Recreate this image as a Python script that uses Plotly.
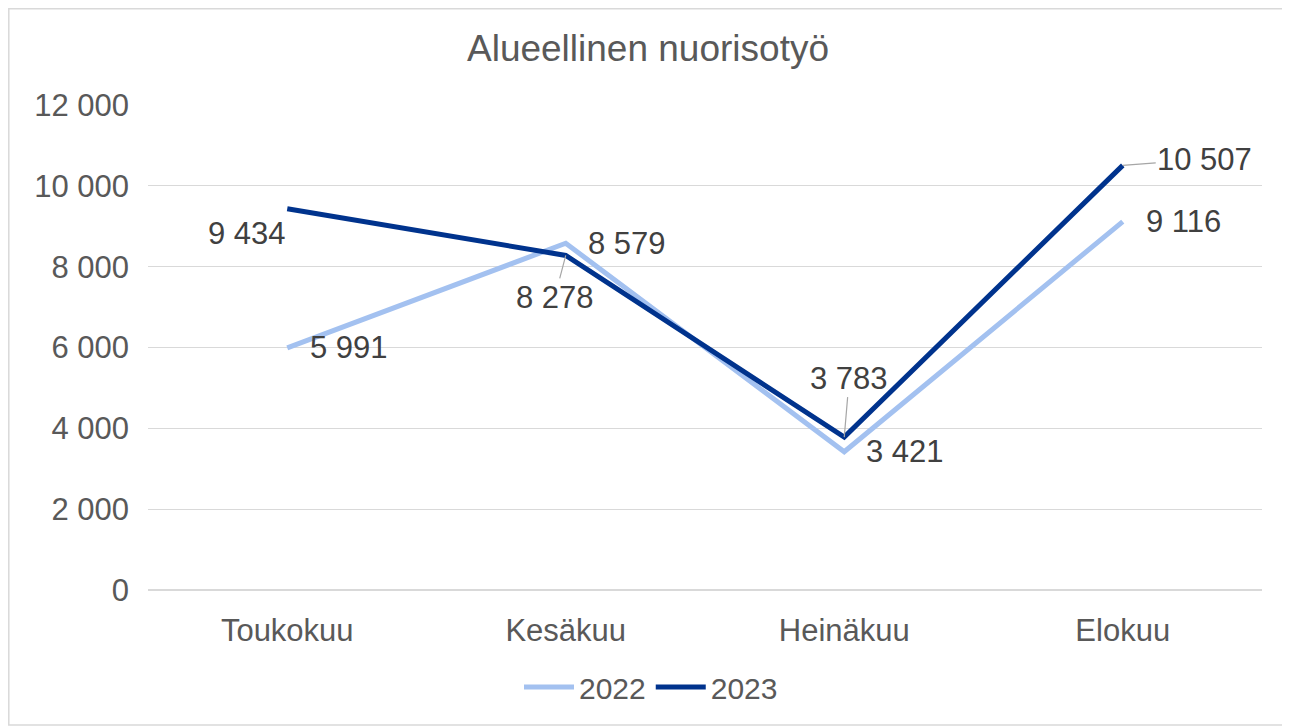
import plotly.graph_objects as go

categories = ["Toukokuu", "Kesäkuu", "Heinäkuu", "Elokuu"]
values_2022 = [5991, 8579, 3421, 9116]
values_2023 = [9434, 8278, 3783, 10507]
y_ticks = [0, 2000, 4000, 6000, 8000, 10000, 12000]
y_tick_labels = ["0", "2 000", "4 000", "6 000", "8 000", "10 000", "12 000"]

def fmt(v):
    return f"{v:,}".replace(",", " ")

C22 = "#A3C1F0"
C23 = "#00338D"
FONT = "Liberation Sans, Arial, sans-serif"

fig = go.Figure()
fig.add_trace(go.Scatter(x=categories, y=values_2022, mode="lines", name="2022",
                         line=dict(color=C22, width=5)))
fig.add_trace(go.Scatter(x=categories, y=values_2023, mode="lines", name="2023",
                         line=dict(color=C23, width=5)))

# label offsets (pixels, dy positive = downward): (dx, dy, leader)
off22 = [(62, 0, False), (61, 0, False), (61, 0, False), (61, 0, False)]
off23 = [(-40, 25, False), (-11, 42, True), (5, -59, True), (82, -6, True)]

annotations = []
for vals, offs in ((values_2022, off22), (values_2023, off23)):
    for c, v, (dx, dy, lead) in zip(categories, vals, offs):
        if lead:
            annotations.append(dict(x=c, y=v, text=fmt(v), showarrow=True, arrowhead=0,
                                    arrowwidth=1.2, arrowcolor="#A6A6A6", ax=dx, ay=dy,
                                    standoff=0, startstandoff=0,
                                    font=dict(family=FONT, size=31, color="#404040")))
        else:
            annotations.append(dict(x=c, y=v, text=fmt(v), showarrow=False,
                                    xshift=dx, yshift=-dy,
                                    font=dict(family=FONT, size=31, color="#404040")))

# page has an 8px body margin; figure is sized/offset to compensate
W, H = 1282, 718
L, T = 140, 97
PW, PH = 1114, 485

fig.update_layout(
    width=W, height=H,
    margin=dict(l=L, r=W - L - PW, t=T, b=H - T - PH, autoexpand=False),
    paper_bgcolor="white", plot_bgcolor="white",
    title=dict(text="Alueellinen nuorisotyö", x=(640 - L) / PW, xref="paper", xanchor="center",
               y=1 - 40 / H, yanchor="middle",
               font=dict(family=FONT, size=37, color="#595959")),
    font=dict(family=FONT, size=31, color="#595959"),
    xaxis=dict(showgrid=False, showline=False, ticks="", tickfont=dict(size=31, color="#595959"),
               range=[-0.5, 3.5], fixedrange=True, ticklabelstandoff=19),
    yaxis=dict(range=[0, 12000], tickvals=y_ticks, ticktext=y_tick_labels,
               showgrid=True, gridcolor="#D9D9D9", gridwidth=1.3,
               zeroline=True, zerolinecolor="#D9D9D9", zerolinewidth=1.5,
               showline=False, ticks="", ticklabelstandoff=18,
               tickfont=dict(size=31, color="#595959")),
    legend=dict(orientation="h", x=(643 - L) / PW, xanchor="center",
                y=-(679 - T - PH) / PH, yanchor="middle",
                font=dict(size=30, color="#595959"), tracegroupgap=0, itemwidth=50),
    showlegend=True,
    annotations=annotations,
    shapes=[dict(type="rect", xref="paper", yref="paper",
                 x0=(0.8 - L) / PW, x1=(W - 1 - L) / PW,
                 y0=(T + PH - (H - 1)) / PH, y1=(T + PH - 0.8) / PH,
                 line=dict(color="#D9D9D9", width=1.5), fillcolor="rgba(0,0,0,0)", layer="below")],
)

fig.write_html("out.html")
